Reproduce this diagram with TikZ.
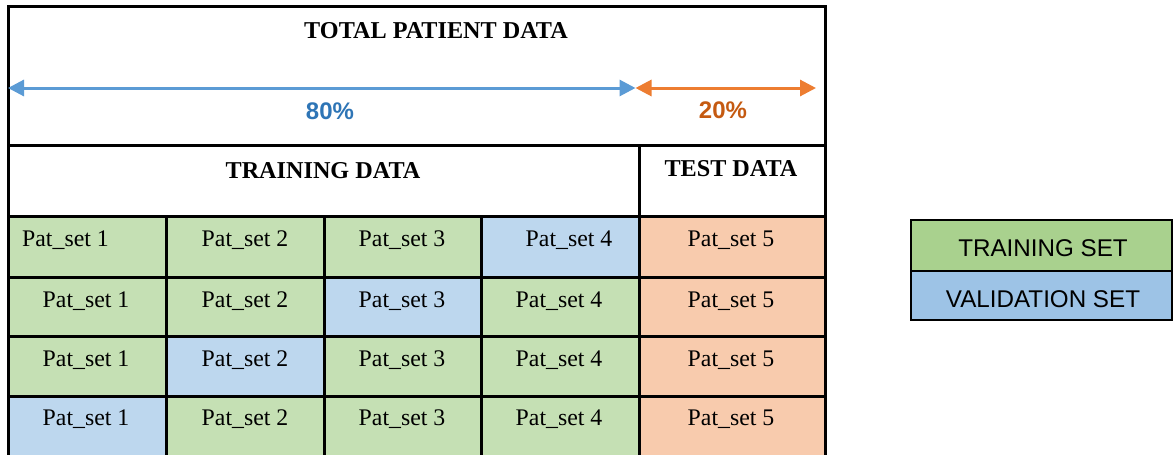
\documentclass[tikz,border=0pt]{standalone}
\usepackage{fontspec}
\setmainfont{Liberation Serif}
\newfontfamily\arialf{Liberation Sans}
\usetikzlibrary{arrows.meta}
\definecolor{cgreen}{HTML}{C5E0B4}
\definecolor{cblue}{HTML}{BDD7EE}
\definecolor{corange}{HTML}{F8CBAD}
\definecolor{lgreen}{HTML}{A9D18E}
\definecolor{lblue}{HTML}{9DC3E6}
\definecolor{arrblue}{HTML}{5B9BD5}
\definecolor{arrorange}{HTML}{ED7D31}
\definecolor{txtblue}{HTML}{2E75B6}
\definecolor{txtorange}{HTML}{C55A11}
\tikzset{
  grid/.style={line width=3pt},
  celltext/.style={anchor=base, inner sep=0pt, font=\fontsize{23.8}{28}\selectfont},
  headtext/.style={anchor=base, inner sep=0pt, font=\fontsize{24.2}{28}\selectfont\bfseries},
  pcttext/.style={anchor=base, inner sep=0pt, font=\arialf\fontsize{24}{28}\selectfont\bfseries},
  legendbox/.style={draw=black, line width=2pt, minimum width=261pt, inner sep=0pt},
  legendtext/.style={anchor=base, inner sep=0pt, font=\arialf\fontsize{24.2}{28}\selectfont},
  span/.style={line width=3pt, {Triangle[length=16pt,width=16pt]}-{Triangle[length=16pt,width=16pt]}}
}
\begin{document}
\begin{tikzpicture}[x=1pt,y=-1pt]
\clip (0,0) rectangle (1173,455);
\fill[white] (0,0) rectangle (1173,455);
% cell fills
\def\xs{{8,166,324,481,639,825}}
\def\ys{{216,277,336,396,470}}
\foreach \r/\cols in {0/{cgreen,cgreen,cgreen,cblue,corange},
                      1/{cgreen,cgreen,cblue,cgreen,corange},
                      2/{cgreen,cblue,cgreen,cgreen,corange},
                      3/{cblue,cgreen,cgreen,cgreen,corange}}{
  \foreach \col [count=\c from 0] in \cols {
    \pgfmathsetmacro{\xa}{\xs[\c]}
    \pgfmathsetmacro{\xb}{\xs[\c+1]}
    \pgfmathsetmacro{\ya}{\ys[\r]}
    \pgfmathsetmacro{\yb}{\ys[\r+1]}
    \fill[\col] (\xa,\ya) rectangle (\xb,\yb);
  }
}
% grid
\draw[grid] (8,6) rectangle (825,470);
\foreach \y in {145,216,277,336,396} \draw[grid] (8,\y) -- (825,\y);
\draw[grid] (639,145) -- (639,470);
\foreach \x in {166,324,481} \draw[grid] (\x,216) -- (\x,470);
% headings
\node[headtext] (total) at (436,38) {TOTAL PATIENT DATA};
\node[headtext] (train) at (323,178) {TRAINING DATA};
\node[headtext] (test) at (731,176) {TEST DATA};
% span arrows
\coordinate (aL) at (8,88);
\coordinate (aM) at (635.5,88);
\coordinate (aR) at (816,88);
\draw[span, arrblue] (aL) -- (aM);
\draw[span, arrorange] (aM) -- (aR);
\node[pcttext, text=txtblue] (p80) at (330,119) {80\%};
\node[pcttext, text=txtorange] (p20) at (723,118) {20\%};
% cell texts
\node[celltext, anchor=base west] (c11) at (22,246) {Pat\_set 1};
\node[celltext] (c12) at (245,246) {Pat\_set 2};
\node[celltext] (c13) at (402,246) {Pat\_set 3};
\node[celltext] (c14) at (569,246) {Pat\_set 4};
\node[celltext] (c15) at (731,246) {Pat\_set 5};
\foreach \r/\yy in {2/307,3/366,4/425}{
  \node[celltext] (c\r1) at (86,\yy) {Pat\_set 1};
  \node[celltext] (c\r2) at (245,\yy) {Pat\_set 2};
  \node[celltext] (c\r3) at (402,\yy) {Pat\_set 3};
  \node[celltext] (c\r4) at (559,\yy) {Pat\_set 4};
  \node[celltext] (c\r5) at (731,\yy) {Pat\_set 5};
}
% legend
\node[legendbox, fill=lgreen, minimum height=51pt] (ltrain) at (1041.5,245.5) {};
\node[legendbox, fill=lblue, minimum height=49pt] (lval) at (1041.5,295.5) {};
\node[legendtext] (ltraintxt) at (1043,256) {TRAINING SET};
\node[legendtext] (lvaltxt) at (1043,307) {VALIDATION SET};
\end{tikzpicture}
\end{document}
